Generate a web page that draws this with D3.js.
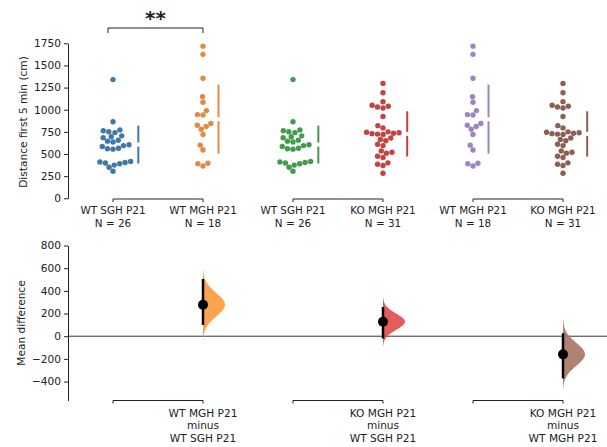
<!DOCTYPE html>
<html><head><meta charset="utf-8">
<script src="https://cdn.jsdelivr.net/npm/d3@7"></script>
<style>
body{margin:0;background:#fff}
text{font-family:"DejaVu Sans",sans-serif;fill:#222}
</style>
</head><body>
<svg id="c" width="607" height="447"></svg>
<script>
// ---- data ----
const groupLabels = ["WT SGH P21","WT MGH P21","WT SGH P21","KO MGH P21","WT MGH P21","KO MGH P21"];
const wtSGH = [1340,865,772,762,752,742,705,695,685,655,645,635,605,595,585,565,555,415,410,405,398,390,375,350,305];
const wtMGH = [1718,1625,1355,1147,1084,990,945,940,845,825,810,780,720,600,545,395,390,365];
const koMGH = [1297,1192,1091,1050,1040,1030,1020,923,820,795,750,745,740,735,730,725,720,680,665,650,610,595,535,520,510,475,460,400,385,370,282];
const groupData = [wtSGH.concat([560]), wtMGH, wtSGH.concat([560]), koMGH, wtMGH, koMGH];
const groupColors = ["#3f78ab","#e08c40","#419c4b","#c4423f","#9c86c0","#8d5f53"];
const yTicks = [0,250,500,750,1000,1250,1500,1750];

const diffLabels = [["WT MGH P21","minus","WT SGH P21"],["KO MGH P21","minus","WT SGH P21"],["KO MGH P21","minus","WT MGH P21"]];
const diffPairs = [[0,1],[2,3],[4,5]];
const diffMean = [278,128,-160];
const diffLow = [100,-20,-372];
const diffHigh = [505,258,26];
const violinColors = ["#f99a3e","#e04b49","#a97465"];
const diffTicks = [-400,-200,0,200,400,600,800];
const sigText = "**";

// ---- layout ----
const svg = d3.select("#c");
const x = d3.scalePoint().domain(d3.range(groupLabels.length)).range([113,563]);
const y = d3.scaleLinear().domain([0,1750]).range([198.3,43.3]);
const y2 = d3.scaleLinear().domain([-567,800]).range([400.5,245.5]);
const axX = 68;
const fs = 10.6;

function styleAxis(g){
  g.selectAll("path,line").attr("stroke","#222").attr("stroke-width",1);
  g.selectAll("text").style("font-size",fs+"px").attr("fill","#222");
}
svg.append("g").attr("transform",`translate(${axX},0)`)
  .call(d3.axisLeft(y).tickValues(yTicks).tickSize(4).tickSizeOuter(0).tickPadding(3).tickFormat(d3.format("d")))
  .call(styleAxis);
svg.append("g").attr("transform",`translate(${axX},0)`)
  .call(d3.axisLeft(y2).tickValues(diffTicks).tickSize(4).tickSizeOuter(0).tickPadding(3).tickFormat(d=>d<0?"\u2212"+Math.abs(d):d))
  .call(styleAxis);

svg.append("text").attr("transform","translate(27,122) rotate(-90)").attr("text-anchor","middle")
  .style("font-size",fs+"px").text("Distance first 5 min (cm)");
svg.append("text").attr("transform","translate(25,323) rotate(-90)").attr("text-anchor","middle")
  .style("font-size",fs+"px").text("Mean difference");

// ---- swarm ----
const r = 2.7;
function swarm(values, scale){
  const d = 5.6;
  const pts = values.map(v=>({v, py:scale(v)})).sort((a,b)=>a.v-b.v);
  const placed = [];
  for(const p of pts){
    const near = placed.filter(q=>Math.abs(q.py-p.py)<d);
    const cands=[0];
    for(const q of near){
      const dx=Math.sqrt(d*d-(q.py-p.py)**2);
      cands.push(q.dx+dx,q.dx-dx);
    }
    cands.sort((a,b)=>Math.abs(a)-Math.abs(b)||a-b);
    for(const c of cands){
      if(near.every(q=>(q.dx-c)**2+(q.py-p.py)**2>=d*d-1e-6)){p.dx=c;break;}
    }
    placed.push(p);
  }
  return placed;
}

groupData.forEach((vals,i)=>{
  const cx = x(i);
  const pts = swarm(vals,y);
  svg.append("g").selectAll("circle").data(pts).join("circle")
    .attr("cx",p=>cx+p.dx).attr("cy",p=>p.py).attr("r",r).attr("fill",groupColors[i]);
  const m = d3.mean(vals), s = d3.deviation(vals);
  const lx = cx + d3.max(pts,p=>Math.abs(p.dx)) + r + 5;
  const gap = 2;
  svg.append("line").attr("x1",lx).attr("x2",lx).attr("y1",y(m+s)).attr("y2",y(m)-gap)
    .attr("stroke",groupColors[i]).attr("stroke-width",2);
  svg.append("line").attr("x1",lx).attr("x2",lx).attr("y1",y(m)+gap).attr("y2",y(m-s))
    .attr("stroke",groupColors[i]).attr("stroke-width",2);
  // labels
  svg.append("text").attr("x",cx).attr("y",214.3).attr("text-anchor","middle").style("font-size","10.4px").text(groupLabels[i]);
  svg.append("text").attr("x",cx).attr("y",226.9).attr("text-anchor","middle").style("font-size","10.4px").text("N = "+vals.length);
});

// brackets
function bracket(x1,x2,yy,down){
  svg.append("path").attr("d",`M${x1},${yy+down}V${yy}H${x2}V${yy+down}`)
    .attr("fill","none").attr("stroke","#222").attr("stroke-width",1);
}
diffPairs.forEach(([a,b])=>{ bracket(x(a),x(b),199,3); bracket(x(a),x(b),400.5,3); });

// significance annotation
bracket(108, x(1), 28, 5);
svg.append("text").attr("x",(108+x(1))/2).attr("y",25).attr("text-anchor","middle")
  .style("font-size","20px").style("font-weight","bold").text(sigText);

// ---- effect sizes ----
svg.append("line").attr("x1",axX).attr("x2",607).attr("y1",y2(0)).attr("y2",y2(0))
  .attr("stroke","#333").attr("stroke-width",1);

diffPairs.forEach(([a,b],k)=>{
  const cx = x(b);
  const sig = (diffHigh[k]-diffLow[k])/3.92;
  const mu = diffMean[k];
  const vs = d3.range(-3,3.001,0.05).map(z=>mu+z*sig);
  const maxW = 22;
  const area = d3.area().curve(d3.curveBasis)
    .y(v=>y2(v)).x0(cx).x1(v=>cx+maxW*Math.exp(-0.5*((v-mu)/sig)**2));
  svg.append("path").datum(vs).attr("d",area).attr("fill",violinColors[k]).attr("opacity",0.9);
  svg.append("line").attr("x1",cx).attr("x2",cx).attr("y1",y2(diffLow[k])).attr("y2",y2(diffHigh[k]))
    .attr("stroke","#000").attr("stroke-width",2.5);
  svg.append("circle").attr("cx",cx).attr("cy",y2(mu)).attr("r",5).attr("fill","#000");
  diffLabels[k].forEach((t,j)=>{
    svg.append("text").attr("x",cx).attr("y",[416.5,429,441.5][j]).attr("text-anchor","middle")
      .style("font-size",fs+"px").text(t);
  });
});
</script>
</body></html>
